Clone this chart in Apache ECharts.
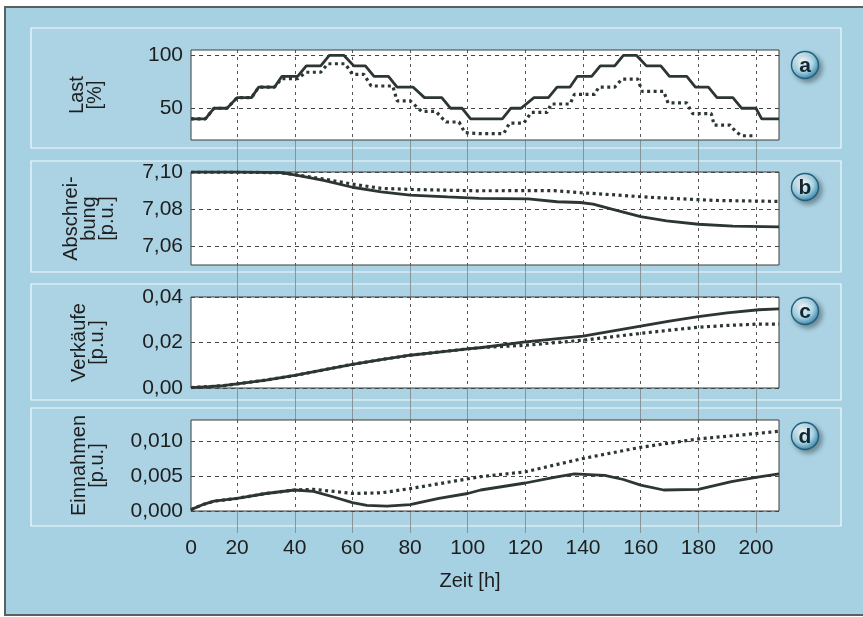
<!DOCTYPE html>
<html>
<head>
<meta charset="utf-8">
<script src="https://cdn.jsdelivr.net/npm/echarts@6/dist/echarts.min.js"></script>
<style>
  html, body { margin: 0; padding: 0; background: #fff; }
  #card { position: absolute; left: 4px; top: 6px; width: 870px; height: 606px;
          background: #a6d1e3; border: 2px solid #5a5f60; }
  #chart { position: absolute; left: 0; top: 0; width: 863px; height: 617px; }
</style>
</head>
<body>
<div id="card"></div>
<div id="chart"></div>
<script>
// x axis (Zeit in h)
var xMin = 4, xMax = 208;
var xTicks = [20, 40, 60, 80, 100, 120, 140, 160, 180, 200];
var xLabels = [4, 20, 40, 60, 80, 100, 120, 140, 160, 180, 200];

// a) Last [%]  -- [h, value]
var lastSolid = [[4,40],[9,40],[12,50],[16.5,50],[20,60],[25,60],[27.5,70],[33,70],[35.5,80],[41,80],
  [44,90],[49,90],[52,100],[57,100],[60.5,90],[64.5,90],[67.5,80],[72.5,80],[75.5,70],[81,70],
  [85,60],[91,60],[94,50],[98,50],[101,40],[112,40],[115,50],[118.5,50],[123,60],[128,60],
  [131,70],[135.5,70],[138,80],[143,80],[146,90],[151,90],[154,100],[158.5,100],[162,90],[167,90],
  [170,80],[176,80],[179,70],[183.5,70],[186.5,60],[192,60],[195,50],[200,50],[202,40],[208,40]];
var lastDot = [[4,40],[9,40],[12,50],[16.5,50],[20,60],[25,60],[27.5,70],[33,70],[35.5,78],[41,78],
  [44,84],[49,84],[51.5,92],[57.5,92],[60,82],[64,82],[66.5,71],[74,71],[75.5,57],[80,57],
  [82,52],[84,47],[89,47],[91,41],[92.5,37],[97,37],[99,27],[104,26],[112.5,26],[114.5,36],
  [119.5,36],[122,46],[127.5,46],[129,54],[135.5,54],[137,63],[144,63],[145.5,70],[151,70],
  [153.5,77.5],[159,77.5],[160.5,66],[168,66],[169.5,55],[176,55],[178,45],[184.5,45],
  [185.5,34],[191,34],[193,28],[195,24],[200,24]];

// b) Abschreibung [p.u.]
var abschrSolid = [[4,7.1000],[20,7.1000],[35,7.0997],[40,7.0985],[50,7.0955],[60,7.0918],[70,7.0893],
  [80,7.0876],[93,7.0866],[104,7.0858],[121,7.0856],[131,7.0840],[139,7.0836],[143.5,7.0827],
  [150,7.0800],[160,7.0760],[169,7.0737],[180,7.0719],[192,7.0709],[208,7.0705]];
var abschrDot = [[4,7.1000],[20,7.0999],[35,7.0996],[40,7.0986],[50,7.0962],[60,7.0935],[70,7.0912],
  [81,7.0906],[103,7.0899],[130,7.0900],[139,7.0889],[150,7.0878],[163,7.0864],[175,7.0855],
  [186,7.0847],[207.5,7.0842]];

// c) Verkaeufe [p.u.]
var verkSolid = [[4,0.0002],[10,0.0006],[15,0.0010],[20,0.0018],[30,0.0035],[40,0.0055],[50,0.0080],
  [60,0.0104],[70,0.0125],[80,0.0144],[90,0.0158],[100,0.0172],[105,0.0178],[120,0.0203],
  [140,0.0228],[150,0.0250],[160,0.0272],[170,0.0294],[180,0.0314],[190,0.0330],[201,0.0344],[208,0.0348]];
var verkDot = [[4,0.0002],[10,0.0006],[15,0.0010],[20,0.0018],[30,0.0035],[40,0.0055],[50,0.0080],
  [60,0.0104],[70,0.0125],[80,0.0144],[90,0.0158],[100,0.0172],[105,0.0178],[120,0.0188],
  [140,0.0210],[150,0.0225],[160,0.0240],[170,0.0254],[180,0.0267],[190,0.0275],[201,0.0281],[208,0.0281]];

// d) Einnahmen [p.u.]
var einSolid = [[4,0.0002],[8,0.0009],[12,0.0014],[20,0.0018],[30,0.0025],[40,0.0030],[46.5,0.0028],
  [53.5,0.0020],[60,0.0012],[65,0.0008],[72,0.0007],[80,0.0009],[90,0.0018],[100,0.0025],
  [104.5,0.0030],[120,0.0040],[130,0.0048],[137,0.0053],[147.5,0.0051],[154,0.0045],[160,0.0037],
  [168,0.0030],[180,0.0031],[191.5,0.0042],[200,0.0048],[208,0.0053]];
var einDot = [[4,0.0002],[8,0.0009],[12,0.0014],[20,0.0018],[30,0.0025],[40,0.0030],[46.5,0.0031],
  [53.5,0.0028],[60,0.0025],[70,0.0026],[80,0.0032],[90,0.0039],[104.5,0.0049],[120,0.0056],
  [140,0.0075],[160,0.0091],[180,0.0103],[201,0.0111],[208,0.0114]];

// y ticks
var ticksA = [50, 100];
var ticksB = [7.06, 7.08, 7.10];
var ticksC = [0, 0.02, 0.04];
var ticksD = [0, 0.005, 0.010];

var font = "'Liberation Sans', Arial, sans-serif";
var ink = '#2c3632';

var panels = [
  {top: 50, height: 90, min: 20, max: 105, ticks: ticksA, dec: 0, name: 'Last\n[%]', gap: 87,
   solid: lastSolid, dot: lastDot, badge: 'a', by: 65},
  {top: 172, height: 93, min: 7.05, max: 7.10, ticks: ticksB, dec: 2, name: 'Abschrei-\nbung\n[p.u.]', gap: 75,
   solid: abschrSolid, dot: abschrDot, badge: 'b', by: 187},
  {top: 297, height: 91, min: 0, max: 0.04, ticks: ticksC, dec: 2, name: 'Verkäufe\n[p.u.]', gap: 85,
   solid: verkSolid, dot: verkDot, badge: 'c', by: 311},
  {top: 420, height: 91, min: 0, max: 0.013, ticks: ticksD, dec: 3, name: 'Einnahmen\n[p.u.]', gap: 85,
   solid: einSolid, dot: einDot, badge: 'd', by: 436}
];

var grids = [{left: 191, width: 588, top: 50, height: 483, z: 0}];
var xAxes = [{
  type: 'value', gridIndex: 0, min: xMin, max: xMax, z: 0,
  axisLine: {show: false},
  axisTick: {show: false, customValues: xTicks},
  splitLine: {show: true, lineStyle: {color: '#7d8588', width: 0.8, type: 'solid'}},
  axisLabel: {customValues: xLabels, margin: 5, fontSize: 21, fontFamily: font, color: '#1e1e1e',
    formatter: function (v) { return v <= xMin ? '0' : String(v); }},
  name: 'Zeit [h]', nameLocation: 'middle', nameGap: 38,
  nameTextStyle: {fontSize: 20, fontFamily: font, color: '#1e1e1e', padding: [0, 30, 0, 0]}
}];
var yAxes = [{type: 'value', gridIndex: 0, min: 0, max: 1, show: false}];
var series = [];
var graphics = [];

// panel frames
var frames = [[28, 120], [161, 111], [284, 116], [408, 118]];
frames.forEach(function (f) {
  graphics.push({type: 'rect', z: -10, shape: {x: 31, y: f[0], width: 810, height: f[1]},
    style: {fill: 'rgba(255,255,255,0.06)', stroke: 'rgba(255,255,255,0.85)', lineWidth: 1.2}});
});

panels.forEach(function (p, i) {
  var gi = i + 1;
  grids.push({left: 191, width: 588, top: p.top, height: p.height, show: true, z: 1,
    backgroundColor: '#ffffff', borderColor: '#3a3f3f', borderWidth: 1});
  xAxes.push({type: 'value', gridIndex: gi, min: xMin, max: xMax, z: 3,
    axisLine: {show: false}, axisLabel: {show: false},
    axisTick: {show: false, customValues: xTicks},
    splitLine: {show: true, lineStyle: {color: '#555', width: 1, type: [3, 4]}}});
  yAxes.push({type: 'value', gridIndex: gi, min: p.min, max: p.max, z: 3,
    axisLine: {show: false},
    axisTick: {show: false, customValues: p.ticks},
    splitLine: {show: true, lineStyle: {color: '#444', width: 1, type: [4, 4]}},
    axisLabel: {customValues: p.ticks, margin: 8, fontSize: 21, fontFamily: font, color: '#1e1e1e',
      formatter: (function (d) { return function (v) { return v.toFixed(d).replace('.', ','); }; })(p.dec)},
    name: p.name, nameLocation: 'middle', nameGap: p.gap,
    nameTextStyle: {fontSize: 20, fontFamily: font, color: '#1e1e1e', lineHeight: 18}});
  series.push({type: 'line', xAxisIndex: gi, yAxisIndex: gi, data: p.solid, showSymbol: false,
    z: 5, lineStyle: {color: ink, width: 2.8}, animation: false});
  series.push({type: 'line', xAxisIndex: gi, yAxisIndex: gi, data: p.dot, showSymbol: false,
    z: 6, lineStyle: {color: ink, width: 3.2, type: [3, 3.5]}, animation: false});

  // letter badge
  graphics.push({type: 'circle', z: 10, shape: {cx: 805, cy: p.by, r: 13.5},
    style: {
      fill: new echarts.graphic.RadialGradient(0.38, 0.32, 0.75, [
        {offset: 0, color: '#f4fbfe'}, {offset: 0.55, color: '#a9d8ea'}, {offset: 1, color: '#2a7598'}]),
      stroke: '#1f5f7e', lineWidth: 1.4,
      shadowBlur: 5, shadowOffsetX: 3, shadowOffsetY: 3, shadowColor: 'rgba(0,0,0,0.35)'}});
  graphics.push({type: 'text', z: 11, x: 805, y: p.by + 1,
    style: {text: p.badge, fill: '#18252c', font: 'bold 21px ' + font, align: 'center', verticalAlign: 'middle'}});
});

var chart = echarts.init(document.getElementById('chart'));
chart.setOption({
  animation: false,
  grid: grids,
  xAxis: xAxes,
  yAxis: yAxes,
  series: series,
  graphic: graphics
});
</script>
</body>
</html>
